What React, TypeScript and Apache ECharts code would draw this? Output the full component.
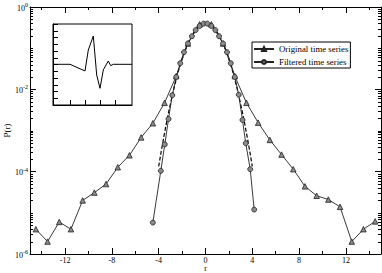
import React, { useEffect, useRef } from 'react';
import * as echarts from 'echarts';

const SERIF = "'Liberation Serif', 'Times New Roman', serif";

// Original time series (triangles)
const origX = [-14.5, -13.5, -12.5, -11.5, -10.5, -9.5, -8.5, -7.5, -6.5, -5.5, -4.5, -3.5, -2.5, -1.5, -0.5, 0.5, 1.5, 2.5, 3.5, 4.5, 5.5, 6.5, 7.5, 8.5, 9.5, 10.5, 11.5, 12.5, 13.5, 14.5];
const origY = [4e-6, 2e-6, 6e-6, 4e-6, 2e-5, 3.1e-5, 5e-5, 1.28e-4, 2.5e-4, 6.8e-4, 1.5e-3, 4.7e-3, 2.1e-2, 1.3e-1, 3.8e-1, 3.8e-1, 1.3e-1, 2.1e-2, 4.7e-3, 1.55e-3, 5.9e-4, 2.6e-4, 1.15e-4, 4.4e-5, 2.6e-5, 2.1e-5, 1.4e-5, 2e-6, 4e-6, 6.2e-6];

// Filtered time series (circles)
const filtX = [-4.5, -3.82, -3.48, -3.16, -2.84, -2.5, -2.16, -1.84, -1.5, -1.16, -0.84, -0.5, -0.16, 0.16, 0.5, 0.84, 1.16, 1.5, 1.84, 2.16, 2.5, 2.84, 3.16, 3.44, 3.82, 4.16];
const filtY = [5.8e-6, 1.05e-4, 4.6e-4, 1.9e-3, 7.2e-3, 2.0e-2, 4.3e-2, 8.0e-2, 1.3e-1, 1.95e-1, 2.75e-1, 3.45e-1, 3.95e-1, 3.95e-1, 3.45e-1, 2.75e-1, 1.95e-1, 1.3e-1, 8.0e-2, 4.3e-2, 2.0e-2, 7.4e-3, 1.8e-3, 4.9e-4, 1.15e-4, 1.2e-5];

// Dashed reference curve
const gaussX = [-4, -3.5, -3, -2.5, -2, -1.5, -1, -0.5, 0, 0.5, 1, 1.5, 2, 2.5, 3, 3.5, 4];
const gaussY = [1.34e-4, 8.7e-4, 4.4e-3, 1.75e-2, 5.4e-2, 1.3e-1, 2.42e-1, 3.52e-1, 3.99e-1, 3.52e-1, 2.42e-1, 1.3e-1, 5.4e-2, 1.75e-2, 4.4e-3, 8.7e-4, 1.34e-4];

// Inset signal
const insetX = [-2, 15, 30, 33.3, 38.3, 41.7, 45, 48.3, 51, 53.3, 55.7, 58.3, 77];
const insetY = [6.03, 6.03, 5.04, 8.15, 10.22, 4.44, 2.47, 5.19, 5.93, 6.52, 5.83, 6.03, 6.03];
const insetXTicks = [15, 30, 45, 60];

// Ticks
const xMajorTicks = [-12, -8, -4, 0, 4, 8, 12];
const xMinorTicks = [-14, -10, -6, -2, 2, 6, 10, 14];
const yMajorTicks = [1e-6, 1e-4, 1e-2, 1];
const yDecades = [-6, -5, -4, -3, -2, -1];
const yMultipliers = [2, 3, 4, 5, 6, 7, 8, 9, 10];
const yMinorTicks: number[] = [];
yDecades.forEach((d) => yMultipliers.forEach((m) => {
  if (m === 10 && (d + 1) % 2 === 0) return;
  yMinorTicks.push(m * Math.pow(10, d));
}));

const pairs = (xs: number[], ys: number[]) => xs.map((x, i) => [x, ys[i]]);

const GRID_LEFT = 30;
const GRID_RIGHT_X = 381;

export default function App() {
  const ref = useRef<HTMLDivElement>(null);
  useEffect(() => {
    if (!ref.current) return;
    const chart = echarts.init(ref.current, undefined, { renderer: 'svg' });
    const axisLine = { show: true, onZero: false, lineStyle: { color: '#000', width: 1 } };
    const tickStyle = { color: '#000', width: 1 };
    const xBase: any = { type: 'value', min: -15, max: 15, gridIndex: 0, splitLine: { show: false }, axisLine };
    const yBase: any = { type: 'log', logBase: 10, min: 1e-6, max: 1, interval: 2, gridIndex: 0, splitLine: { show: false }, axisLine };
    const noLine = { show: false, onZero: false };
    const option: any = {
      animation: false,
      backgroundColor: '#fff',
      grid: [
        { left: GRID_LEFT, right: 382 - GRID_RIGHT_X, top: 7, bottom: 19, containLabel: false, outerBoundsMode: 'none' },
        { left: 53, top: 24, width: 79, height: 81, show: true, borderColor: '#000', borderWidth: 1, backgroundColor: 'transparent', containLabel: false, outerBoundsMode: 'none' },
      ],
      legend: {
        data: ['Original time series', 'Filtered time series'],
        orient: 'vertical',
        left: 252,
        top: 42,
        padding: [2, 2, 1, 1],
        borderColor: '#000',
        borderWidth: 1,
        borderRadius: 0,
        itemWidth: 20,
        itemHeight: 5,
        itemGap: 3,
        backgroundColor: '#fff',
        textStyle: { fontFamily: SERIF, fontSize: 8.8, color: '#000', lineHeight: 10 },
      },
      xAxis: [
        {
          ...xBase, position: 'bottom',
          axisTick: { show: true, inside: true, length: 6, customValues: xMajorTicks, lineStyle: tickStyle },
          axisLabel: { show: true, customValues: xMajorTicks, fontFamily: SERIF, fontSize: 8, lineHeight: 8, color: '#000', margin: 2 },
        },
        {
          ...xBase, position: 'bottom', axisLine: noLine,
          axisTick: { show: true, inside: true, length: 3, customValues: xMinorTicks, lineStyle: tickStyle },
          axisLabel: { show: false },
        },
        {
          ...xBase, position: 'top',
          axisTick: { show: true, inside: true, length: 6, customValues: xMajorTicks, lineStyle: tickStyle },
          axisLabel: { show: false },
        },
        {
          ...xBase, position: 'top', axisLine: noLine,
          axisTick: { show: true, inside: true, length: 3, customValues: xMinorTicks, lineStyle: tickStyle },
          axisLabel: { show: false },
        },
        {
          type: 'value', gridIndex: 1, min: -2, max: 77, splitLine: { show: false },
          axisLine: { show: true, onZero: false, lineStyle: { color: '#000', width: 1 } },
          axisTick: { show: true, inside: true, length: 5, customValues: insetXTicks, lineStyle: tickStyle },
          axisLabel: { show: false },
        },
      ],
      yAxis: [
        {
          ...yBase, position: 'left',
          axisTick: { show: true, inside: true, length: 6, lineStyle: tickStyle },
          axisLabel: { show: false },
          name: 'P(r)', nameLocation: 'middle', nameGap: 19, nameRotate: 90,
          nameTextStyle: { fontFamily: SERIF, fontSize: 9, color: '#000' },
        },
        {
          ...yBase, position: 'right',
          axisTick: { show: true, inside: true, length: 6, lineStyle: tickStyle },
          axisLabel: { show: false },
        },
        {
          type: 'value', gridIndex: 1, min: 0, max: 12, interval: 1, splitLine: { show: false },
          axisLine: { show: true, onZero: false, lineStyle: { color: '#000', width: 1 } },
          axisTick: { show: true, inside: true, length: 5, lineStyle: tickStyle },
          axisLabel: { show: false },
        },
      ],
      series: [
        {
          name: 'Gaussian', type: 'line', xAxisIndex: 0, yAxisIndex: 0,
          data: pairs(gaussX, gaussY), showSymbol: false, smooth: true, z: 1,
          lineStyle: { color: '#000', width: 1.2, type: [4, 2] },
        },
        {
          name: 'Original time series', type: 'line', xAxisIndex: 0, yAxisIndex: 0,
          data: pairs(origX, origY), symbol: 'triangle', symbolSize: 5.5, z: 2,
          lineStyle: { color: '#222', width: 0.9 },
          itemStyle: { color: '#8a8a8a', borderColor: '#222', borderWidth: 0.8 },
        },
        {
          name: 'Filtered time series', type: 'line', xAxisIndex: 0, yAxisIndex: 0,
          data: pairs(filtX, filtY), symbol: 'circle', symbolSize: 5, z: 3,
          lineStyle: { color: '#222', width: 0.9 },
          itemStyle: { color: '#8a8a8a', borderColor: '#222', borderWidth: 0.8 },
        },
        {
          name: 'Inset', type: 'line', xAxisIndex: 4, yAxisIndex: 2,
          data: pairs(insetX, insetY), showSymbol: false, z: 6,
          lineStyle: { color: '#000', width: 1 },
        },
      ],
    };
    chart.setOption(option);

    // Log-axis minor ticks, decade labels and x-axis title, placed through the axis scales
    const els: any[] = [];
    yMinorTicks.forEach((v) => {
      const py = chart.convertToPixel({ yAxisIndex: 0 }, v) as number;
      if (typeof py !== 'number' || !isFinite(py)) return;
      const y = Math.round(py) + 0.5;
      els.push({ type: 'line', shape: { x1: GRID_LEFT, y1: y, x2: GRID_LEFT + 3, y2: y }, style: { stroke: '#000', lineWidth: 1 }, silent: true });
      els.push({ type: 'line', shape: { x1: GRID_RIGHT_X - 3, y1: y, x2: GRID_RIGHT_X, y2: y }, style: { stroke: '#000', lineWidth: 1 }, silent: true });
    });
    yMajorTicks.forEach((v) => {
      const py = chart.convertToPixel({ yAxisIndex: 0 }, v) as number;
      if (typeof py !== 'number' || !isFinite(py)) return;
      const exp = Math.round(Math.log10(v));
      els.push({
        type: 'text', x: GRID_LEFT - 2, y: py, silent: true,
        style: {
          text: `{b|10}{s|${exp}}`, align: 'right', verticalAlign: 'middle',
          rich: {
            b: { fontFamily: SERIF, fontSize: 8, fill: '#000', lineHeight: 10, verticalAlign: 'bottom' },
            s: { fontFamily: SERIF, fontSize: 6, fill: '#000', lineHeight: 10, verticalAlign: 'top' },
          },
        },
      });
    });
    const cx = chart.convertToPixel({ xAxisIndex: 0 }, 0) as number;
    els.push({
      type: 'text', x: cx, y: 268.5, silent: true,
      style: { text: 'r', align: 'center', verticalAlign: 'middle', fontFamily: SERIF, fontSize: 8, lineHeight: 7, fill: '#000' },
    });
    chart.setOption({ ...option, graphic: els }, { notMerge: true });

    return () => chart.dispose();
  }, []);
  return (
    <div
      ref={ref}
      style={{ position: 'fixed', left: 0, top: 0, width: 382, height: 273, background: '#fff' }}
    />
  );
}
